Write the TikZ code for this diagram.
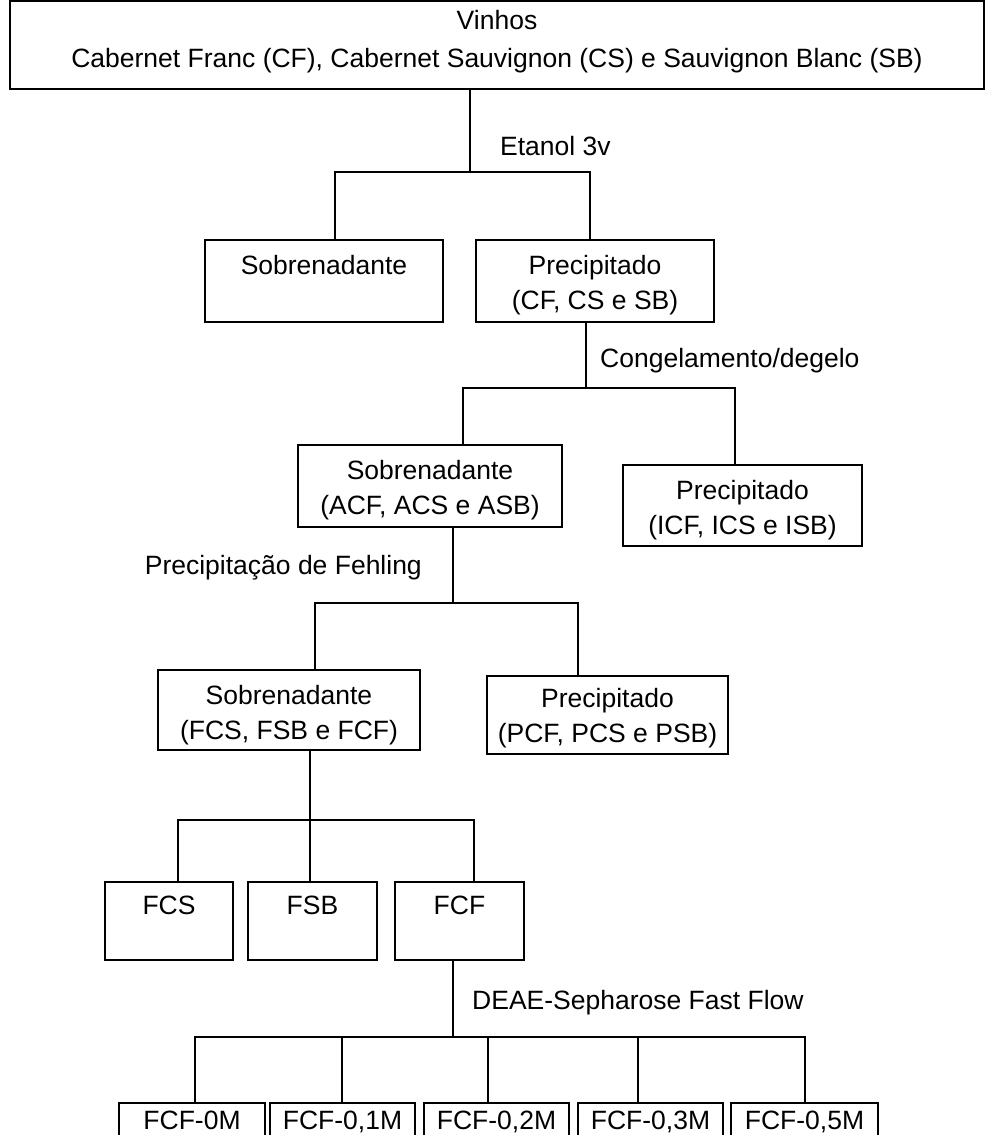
\documentclass[tikz,border=0pt]{standalone}
\usepackage{fontspec}
\setmainfont{Liberation Sans}
% top strut of height #1 and bottom strut of depth #2 (pt)
\newcommand{\Tp}[1]{\rule{0pt}{#1pt}}
\newcommand{\Dp}[1]{\rule[-#1pt]{0pt}{#1pt}}
\begin{document}
\begin{tikzpicture}[x=1pt,y=-1pt,
  box/.style={draw, line width=1.8pt, inner sep=0pt, align=center, font=\fontsize{26.5}{35}\selectfont},
  lbl/.style={inner sep=0pt, font=\fontsize{26.5}{35}\selectfont},
  conn/.style={line width=1.8pt}]
\useasboundingbox (0,0) rectangle (994,1135);
% boxes
\node[box, minimum width=974, minimum height=88, font=\fontsize{26.5}{38}\selectfont] (top) at (497,45)
  {\Tp{27}Vinhos\\Cabernet Franc (CF), Cabernet Sauvignon (CS) e Sauvignon Blanc (SB)\Dp{20}};
\node[box, minimum width=238, minimum height=82] (sob1) at (324,281) {\Tp{27}Sobrenadante\Dp{40}};
\node[box, minimum width=238, minimum height=82] (pre1) at (595,281) {\Tp{28}Precipitado\\(CF, CS e SB)\Dp{6}};
\node[box, minimum width=264, minimum height=82] (sob2) at (430,486) {\Tp{28}Sobrenadante\\(ACF, ACS e ASB)\Dp{6}};
\node[box, minimum width=239, minimum height=81] (pre2) at (742.5,505.5) {\Tp{29}Precipitado\\(ICF, ICS e ISB)\Dp{6}};
\node[box, minimum width=262, minimum height=80] (sob3) at (289,710) {\Tp{30}Sobrenadante\\(FCS, FSB e FCF)\Dp{6}};
\node[box, minimum width=241, minimum height=78] (pre3) at (607.5,715) {\Tp{26}Precipitado\\(PCF, PCS e PSB)\Dp{6}};
\node[box, minimum width=128, minimum height=78] (fcs) at (169,921) {\Tp{27}FCS\Dp{40}};
\node[box, minimum width=129, minimum height=78] (fsb) at (312.5,921) {\Tp{27}FSB\Dp{40}};
\node[box, minimum width=129, minimum height=78] (fcf) at (459.5,921) {\Tp{27}FCF\Dp{40}};
\node[box, minimum width=146, minimum height=80] (c0) at (192,1143) {\Tp{25}FCF-0M\Dp{52}};
\node[box, minimum width=145, minimum height=80] (c1) at (342.5,1143) {\Tp{25}FCF-0,1M\Dp{52}};
\node[box, minimum width=145, minimum height=80] (c2) at (496.5,1143) {\Tp{25}FCF-0,2M\Dp{52}};
\node[box, minimum width=145, minimum height=80] (c3) at (650.5,1143) {\Tp{25}FCF-0,3M\Dp{52}};
\node[box, minimum width=147, minimum height=80] (c4) at (804.5,1143) {\Tp{25}FCF-0,5M\Dp{52}};
% labels
\node[lbl, anchor=base west] (l1) at (500,155.5) {Etanol 3v};
\node[lbl, anchor=base west] (l2) at (600,367.5) {Congelamento/degelo};
\node[lbl, anchor=base east] (l3) at (422,574.5) {Precipitação de Fehling};
\node[lbl, anchor=base west] (l4) at (472,1009.5) {DEAE-Sepharose Fast Flow};
% junctions
\coordinate (j1) at (470,172); \coordinate (a1) at (335,172); \coordinate (a2) at (590,172);
\coordinate (j2) at (586,388); \coordinate (a3) at (463,388); \coordinate (a4) at (735,388);
\coordinate (j3) at (453,603); \coordinate (a5) at (315,603); \coordinate (a6) at (578,603);
\coordinate (j4) at (310,820); \coordinate (a7) at (178,820); \coordinate (a8) at (474,820);
\coordinate (j5) at (453,1037);
\coordinate (d1) at (195,1037); \coordinate (d2) at (342,1037); \coordinate (d3) at (488,1037);
\coordinate (d4) at (638,1037); \coordinate (d5) at (805,1037);
% connectors
\draw[conn] (top.south -| j1) -- (j1);
\draw[conn] (sob1.north -| a1) -- (a1) -- (a2) -- (pre1.north -| a2);
\draw[conn] (pre1.south -| j2) -- (j2);
\draw[conn] (sob2.north -| a3) -- (a3) -- (a4) -- (pre2.north -| a4);
\draw[conn] (sob2.south -| j3) -- (j3);
\draw[conn] (sob3.north -| a5) -- (a5) -- (a6) -- (pre3.north -| a6);
\draw[conn] (sob3.south -| j4) -- (fsb.north -| j4);
\draw[conn] (fcs.north -| a7) -- (a7) -- (a8) -- (fcf.north -| a8);
\draw[conn] (fcf.south -| j5) -- (j5);
\draw[conn] (c0.north -| d1) -- (d1) -- (d5) -- (c4.north -| d5);
\draw[conn] (d2) -- (c1.north -| d2);
\draw[conn] (d3) -- (c2.north -| d3);
\draw[conn] (d4) -- (c3.north -| d4);
\end{tikzpicture}
\end{document}
